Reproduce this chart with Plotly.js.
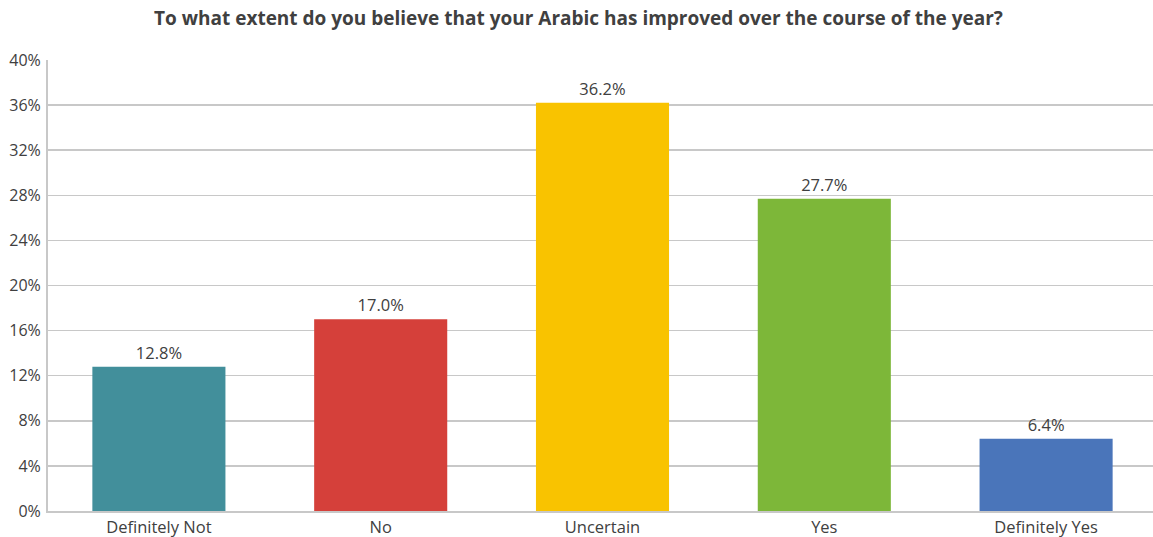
<!DOCTYPE html>
<html><head><meta charset="utf-8">
<script src="https://cdn.plot.ly/plotly-3.0.1.min.js"></script>
<style>html,body{margin:0;padding:0;background:#fff;overflow:hidden}</style>
</head><body><div id="chart" style="width:1157px;height:537px"></div>
<script>
const categories = ["Definitely Not", "No", "Uncertain", "Yes", "Definitely Yes"];
const values = [12.8, 17.0, 36.2, 27.7, 6.4];
const colors = ["#428f9b", "#d5403a", "#f9c300", "#7db739", "#4a75ba"];
const tickVals = [0, 4, 8, 12, 16, 20, 24, 28, 32, 36, 40];
const tickText = tickVals.map(v => v + "%");

Plotly.newPlot("chart", [{
  type: "bar",
  x: categories,
  y: values,
  width: 0.6,
  marker: {color: colors},
  text: values.map(v => v.toFixed(1) + "%"),
  textposition: "outside",
  cliponaxis: false,
  textfont: {family: "Open Sans, sans-serif", size: 16.5, color: "#404040"},
  hoverinfo: "none"
}], {
  width: 1157, height: 537,
  margin: {l: 48, r: 0, t: 60, b: 26},
  paper_bgcolor: "#fff", plot_bgcolor: "#fff",
  font: {family: "Open Sans, sans-serif", color: "#404040"},
  title: {text: "<b>To what extent do you believe that your Arabic has improved over the course of the year?</b>",
    x: 0.5, xanchor: "center", y: 0.965, yanchor: "middle",
    font: {family: "Open Sans, sans-serif", size: 19, color: "#404040"}},
  bargap: 0.4,
  xaxis: {tickfont: {size: 16.5, color: "#404040"}, showline: true, linecolor: "#c8c8c8", linewidth: 2, ticks: "", fixedrange: true},
  yaxis: {range: [0, 40], tickvals: tickVals, ticktext: tickText, showgrid: true, gridcolor: "#c8c8c8", gridwidth: 1.5,
    showline: true, linecolor: "#c8c8c8", linewidth: 2, zeroline: false, ticks: "",
    tickfont: {size: 16, color: "#404040"}, ticklabelstandoff: 2},
  showlegend: false
}, {displayModeBar: false, staticPlot: true});
</script></body></html>
